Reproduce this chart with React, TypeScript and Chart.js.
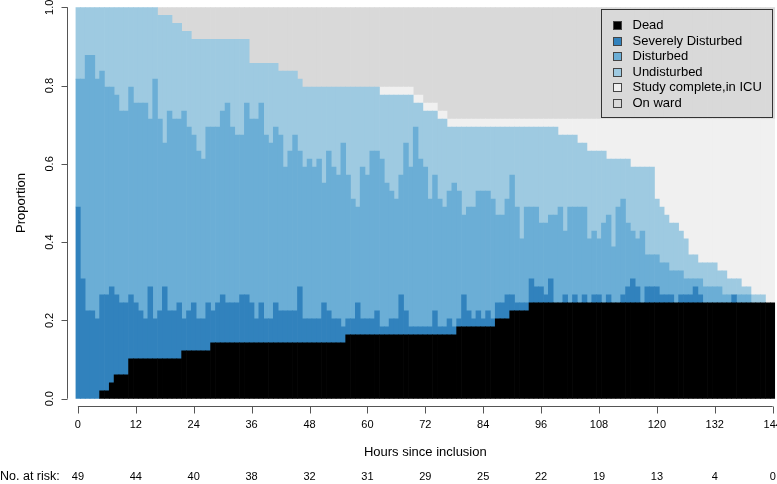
import { useEffect, useRef } from 'react';
import { Chart, registerables } from 'chart.js';

Chart.register(...registerables);

const TOTAL_PATIENTS = 49;

const HOURS = [
  0, 1, 2, 3, 4, 5, 6, 7, 8, 9,
  10, 11, 12, 13, 14, 15, 16, 17, 18, 19,
  20, 21, 22, 23, 24, 25, 26, 27, 28, 29,
  30, 31, 32, 33, 34, 35, 36, 37, 38, 39,
  40, 41, 42, 43, 44, 45, 46, 47, 48, 49,
  50, 51, 52, 53, 54, 55, 56, 57, 58, 59,
  60, 61, 62, 63, 64, 65, 66, 67, 68, 69,
  70, 71, 72, 73, 74, 75, 76, 77, 78, 79,
  80, 81, 82, 83, 84, 85, 86, 87, 88, 89,
  90, 91, 92, 93, 94, 95, 96, 97, 98, 99,
  100, 101, 102, 103, 104, 105, 106, 107, 108, 109,
  110, 111, 112, 113, 114, 115, 116, 117, 118, 119,
  120, 121, 122, 123, 124, 125, 126, 127, 128, 129,
  130, 131, 132, 133, 134, 135, 136, 137, 138, 139,
  140, 141, 142, 143, 144,
];

// patient counts per hour (out of 49)
const DEAD = [
  0, 0, 0, 0, 0, 1, 1, 2, 3, 3,
  3, 5, 5, 5, 5, 5, 5, 5, 5, 5,
  5, 5, 6, 6, 6, 6, 6, 6, 7, 7,
  7, 7, 7, 7, 7, 7, 7, 7, 7, 7,
  7, 7, 7, 7, 7, 7, 7, 7, 7, 7,
  7, 7, 7, 7, 7, 7, 8, 8, 8, 8,
  8, 8, 8, 8, 8, 8, 8, 8, 8, 8,
  8, 8, 8, 8, 8, 8, 8, 8, 8, 9,
  9, 9, 9, 9, 9, 9, 9, 10, 10, 10,
  11, 11, 11, 11, 12, 12, 12, 12, 12, 12,
  12, 12, 12, 12, 12, 12, 12, 12, 12, 12,
  12, 12, 12, 12, 12, 12, 12, 12, 12, 12,
  12, 12, 12, 12, 12, 12, 12, 12, 12, 12,
  12, 12, 12, 12, 12, 12, 12, 12, 12, 12,
  12, 12, 12, 12, 12,
];

const SEVERELY_DISTURBED = [
  24, 15, 11, 11, 10, 12, 12, 12, 10, 9,
  9, 8, 7, 6, 5, 9, 5, 6, 9, 6,
  6, 7, 4, 5, 6, 4, 4, 6, 4, 5,
  6, 5, 5, 5, 6, 6, 5, 3, 5, 3,
  3, 5, 4, 4, 4, 4, 7, 3, 3, 3,
  3, 5, 4, 3, 3, 2, 2, 2, 4, 2,
  2, 2, 3, 1, 1, 2, 2, 5, 3, 1,
  1, 1, 1, 1, 3, 1, 1, 2, 1, 1,
  4, 2, 1, 2, 1, 2, 1, 2, 2, 3,
  2, 1, 1, 1, 3, 2, 2, 1, 3, 0,
  0, 1, 0, 1, 0, 1, 0, 1, 1, 0,
  1, 0, 0, 1, 2, 3, 2, 0, 2, 2,
  2, 1, 1, 1, 0, 1, 1, 1, 2, 1,
  0, 0, 0, 0, 0, 0, 1, 0, 0, 0,
  0, 0, 0, 0, 0,
];

const DISTURBED = [
  16, 25, 32, 32, 30, 28, 26, 25, 25, 24,
  24, 26, 25, 26, 27, 21, 30, 24, 18, 25,
  24, 23, 26, 23, 21, 21, 20, 22, 23, 22,
  23, 25, 22, 21, 20, 24, 23, 25, 25, 23,
  22, 22, 22, 18, 20, 22, 17, 19, 20, 19,
  20, 15, 20, 19, 18, 23, 18, 15, 12, 19,
  18, 21, 20, 21, 18, 16, 15, 15, 21, 20,
  25, 21, 20, 16, 17, 16, 15, 16, 18, 16,
  10, 13, 14, 15, 16, 15, 15, 11, 11, 12,
  15, 12, 8, 12, 9, 10, 8, 9, 8, 11,
  12, 8, 12, 11, 12, 11, 8, 8, 7, 10,
  10, 7, 12, 12, 8, 6, 6, 9, 4, 4,
  4, 4, 4, 3, 4, 3, 2, 2, 1, 2,
  2, 2, 2, 2, 1, 1, 0, 1, 1, 1,
  0, 0, 0, 0, 0,
];

const UNDISTURBED = [
  9, 9, 6, 6, 9, 8, 10, 10, 11, 13,
  13, 10, 12, 12, 12, 14, 9, 13, 16, 12,
  12, 12, 10, 12, 12, 14, 15, 11, 11, 11,
  9, 8, 11, 12, 12, 8, 7, 7, 5, 9,
  10, 8, 8, 12, 10, 8, 9, 10, 9, 10,
  9, 12, 8, 10, 11, 7, 11, 14, 15, 10,
  11, 8, 8, 8, 11, 12, 13, 10, 6, 9,
  3, 7, 7, 11, 8, 10, 11, 8, 7, 8,
  11, 10, 10, 8, 8, 8, 9, 11, 11, 9,
  6, 10, 14, 10, 10, 10, 12, 12, 11, 11,
  9, 12, 9, 9, 8, 8, 11, 10, 11, 9,
  7, 11, 6, 5, 8, 8, 9, 8, 11, 11,
  7, 7, 6, 6, 6, 5, 5, 3, 3, 2,
  3, 3, 3, 2, 3, 2, 2, 2, 1, 1,
  1, 1, 1, 0, 0,
];

const STUDY_COMPLETE_ICU = [
  0, 0, 0, 0, 0, 0, 0, 0, 0, 0,
  0, 0, 0, 0, 0, 0, 0, 0, 0, 0,
  0, 0, 0, 0, 0, 0, 0, 0, 0, 0,
  0, 0, 0, 0, 0, 0, 0, 0, 0, 0,
  0, 0, 0, 0, 0, 0, 0, 0, 0, 0,
  0, 0, 0, 0, 0, 0, 0, 0, 0, 0,
  0, 0, 0, 1, 1, 1, 1, 1, 1, 1,
  1, 1, 1, 1, 1, 1, 1, 1, 1, 1,
  1, 1, 1, 1, 1, 1, 1, 1, 1, 1,
  1, 1, 1, 1, 1, 1, 1, 1, 1, 1,
  2, 2, 2, 2, 3, 3, 4, 4, 4, 4,
  5, 5, 5, 5, 5, 6, 6, 6, 6, 6,
  10, 11, 12, 13, 13, 14, 15, 17, 17, 18,
  18, 18, 18, 19, 19, 20, 20, 20, 21, 21,
  22, 22, 22, 23, 23,
];

const ON_WARD = [
  0, 0, 0, 0, 0, 0, 0, 0, 0, 0,
  0, 0, 0, 0, 0, 0, 0, 1, 1, 1,
  2, 2, 3, 3, 4, 4, 4, 4, 4, 4,
  4, 4, 4, 4, 4, 4, 7, 7, 7, 7,
  7, 7, 8, 8, 8, 8, 9, 10, 10, 10,
  10, 10, 10, 10, 10, 10, 10, 10, 10, 10,
  10, 10, 10, 10, 10, 10, 10, 10, 10, 10,
  11, 11, 12, 12, 12, 13, 13, 14, 14, 14,
  14, 14, 14, 14, 14, 14, 14, 14, 14, 14,
  14, 14, 14, 14, 14, 14, 14, 14, 14, 14,
  14, 14, 14, 14, 14, 14, 14, 14, 14, 14,
  14, 14, 14, 14, 14, 14, 14, 14, 14, 14,
  14, 14, 14, 14, 14, 14, 14, 14, 14, 14,
  14, 14, 14, 14, 14, 14, 14, 14, 14, 14,
  14, 14, 14, 14, 14,
];

const TICK_HOURS = [0, 12, 24, 36, 48, 60, 72, 84, 96, 108, 120, 132, 144];
const AT_RISK = [49, 44, 40, 38, 32, 31, 29, 25, 22, 19, 13, 4, 0];
const Y_TICKS = [0, 0.2, 0.4, 0.6, 0.8, 1.0];

const SERIES_LABELS = [
  'Dead',
  'Severely Disturbed',
  'Disturbed',
  'Undisturbed',
  'Study complete,in ICU',
  'On ward',
];
const SERIES_COLORS = ['#000000', '#3182bd', '#6baed6', '#9ecae1', '#f0f0f0', '#d9d9d9'];
const SERIES_DATA = [DEAD, SEVERELY_DISTURBED, DISTURBED, UNDISTURBED, STUDY_COMPLETE_ICU, ON_WARD];

const FONT = '"Liberation Sans", Arial, Helvetica, sans-serif';
const AXIS_COLOR = '#555555';

const rStylePlugin = {
  id: 'rStyle',
  afterDraw(chart: any) {
    const { ctx, chartArea } = chart;
    const xs = chart.scales.x;
    const ys = chart.scales.y;
    ctx.save();

    // x axis (R style, detached)
    const axY = Math.round(chartArea.bottom + 7) + 0.5;
    ctx.strokeStyle = AXIS_COLOR;
    ctx.lineWidth = 1;
    ctx.beginPath();
    const xa = xs.getPixelForValue(TICK_HOURS[0]);
    const xb = xs.getPixelForValue(TICK_HOURS[TICK_HOURS.length - 1]);
    ctx.moveTo(xa, axY);
    ctx.lineTo(xb, axY);
    TICK_HOURS.forEach((h) => {
      const px = Math.round(xs.getPixelForValue(h)) + 0.5;
      ctx.moveTo(px, axY);
      ctx.lineTo(px, axY + 7);
    });
    ctx.stroke();

    // y axis
    const axX = Math.round(chartArea.left - 9) + 0.5;
    ctx.beginPath();
    ctx.moveTo(axX, ys.getPixelForValue(Y_TICKS[0]));
    ctx.lineTo(axX, ys.getPixelForValue(Y_TICKS[Y_TICKS.length - 1]));
    Y_TICKS.forEach((v) => {
      const py = Math.round(ys.getPixelForValue(v)) + 0.5;
      ctx.moveTo(axX, py);
      ctx.lineTo(axX - 6, py);
    });
    ctx.stroke();

    // numbers at risk
    ctx.fillStyle = '#000';
    ctx.textBaseline = 'middle';
    ctx.font = `12.5px ${FONT}`;
    ctx.textAlign = 'left';
    ctx.fillText('No. at risk:', 0, 477);
    ctx.font = `11px ${FONT}`;
    ctx.textAlign = 'center';
    AT_RISK.forEach((n, i) => {
      ctx.fillText(String(n), xs.getPixelForValue(TICK_HOURS[i]), 477);
    });

    // legend (R style box, transparent background)
    const boxL = 601.5;
    const boxT = 9.5;
    const boxR = Math.round(chartArea.right - 3) + 0.5;
    const boxB = 117.5;
    ctx.strokeStyle = '#333333';
    ctx.lineWidth = 1;
    ctx.strokeRect(boxL, boxT, boxR - boxL, boxB - boxT);
    ctx.font = `13px ${FONT}`;
    ctx.textAlign = 'left';
    SERIES_LABELS.forEach((label, i) => {
      const cy = 25 + i * 15.5;
      ctx.fillStyle = SERIES_COLORS[i];
      ctx.fillRect(613.5, Math.round(cy - 4) + 0.5, 8, 8);
      ctx.strokeStyle = '#444444';
      ctx.strokeRect(613.5, Math.round(cy - 4) + 0.5, 8, 8);
      ctx.fillStyle = '#000';
      ctx.fillText(label, 632.5, cy + 0.5);
    });

    ctx.restore();
  },
};

export default function App() {
  const canvasRef = useRef<HTMLCanvasElement | null>(null);

  useEffect(() => {
    const canvas = canvasRef.current;
    if (!canvas) return;

    const datasets = SERIES_LABELS.map((label, si) => ({
      label,
      data: HOURS.map((h, i) => ({
        x: h,
        y: SERIES_DATA[si][i] === 0 ? null : SERIES_DATA[si][i] / TOTAL_PATIENTS,
      })),
      backgroundColor: SERIES_COLORS[si],
      borderWidth: 0,
      barPercentage: 1,
      categoryPercentage: 1,
      stack: 'all',
    }));

    const chart = new Chart(canvas, {
      type: 'bar',
      data: { datasets },
      options: {
        animation: false,
        responsive: false,
        devicePixelRatio: 1,
        layout: { padding: { top: 7.3, right: 1.9, left: 0, bottom: 0 } },
        plugins: {
          legend: { display: false },
          tooltip: { enabled: false },
        },
        scales: {
          x: {
            type: 'linear',
            stacked: true,
            offset: false,
            min: -0.5,
            max: 144.5,
            grid: { display: false, drawTicks: false },
            border: { display: false },
            afterBuildTicks: (s: any) => {
              s.ticks = TICK_HOURS.map((v) => ({ value: v }));
            },
            afterFit: (s: any) => {
              s.height = 85.3;
              s.paddingLeft = 0;
              s.paddingRight = 0;
            },
            ticks: {
              padding: 20,
              color: '#000',
              maxRotation: 0,
              autoSkip: false,
              font: { family: FONT, size: 11 },
              callback: (v: any) => String(v),
            },
            title: {
              display: true,
              text: 'Hours since inclusion',
              color: '#000',
              font: { family: FONT, size: 13 },
              padding: { top: 0, bottom: 24 },
            },
          },
          y: {
            type: 'linear',
            stacked: true,
            min: 0,
            max: 1,
            grid: { display: false, drawTicks: false },
            border: { display: false },
            afterBuildTicks: (s: any) => {
              s.ticks = Y_TICKS.map((v) => ({ value: v }));
            },
            afterFit: (s: any) => {
              s.width = 75.5;
              s.paddingTop = 0;
              s.paddingBottom = 0;
            },
            ticks: {
              padding: 18,
              color: '#000',
              minRotation: 90,
              maxRotation: 90,
              crossAlign: 'center',
              font: { family: FONT, size: 11 },
              callback: (v: any) => Number(v).toFixed(1),
            },
            title: {
              display: true,
              text: 'Proportion',
              color: '#000',
              font: { family: FONT, size: 13 },
              padding: { top: 14, bottom: 0 },
            },
          },
        },
      },
      plugins: [rStylePlugin],
    } as any);

    return () => chart.destroy();
  }, []);

  return (
    <div style={{ position: 'fixed', left: 0, top: 0, width: 777, height: 484, background: '#ffffff' }}>
      <canvas ref={canvasRef} width={777} height={484} style={{ display: 'block', width: 777, height: 484 }} />
    </div>
  );
}
